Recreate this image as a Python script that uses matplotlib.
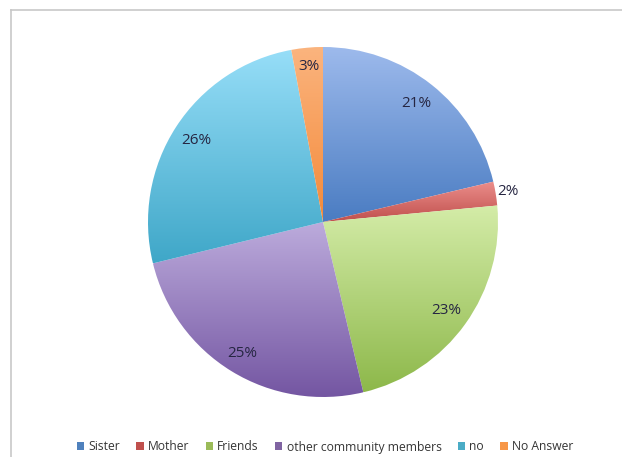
"""
Pie chart of who the respondents talk to, Excel style gradient slices.
"""

import numpy as np
import matplotlib
matplotlib.use("Agg")
import matplotlib.pyplot as plt
from matplotlib.colors import LinearSegmentedColormap
from matplotlib.patches import Patch
from matplotlib.lines import Line2D

categories = ["Sister", "Mother", "Friends", "other community members", "no", "No Answer"]
shares = [21.3, 2.2, 22.8, 24.9, 25.9, 2.9]
shown_pct = ["21%", "2%", "23%", "25%", "26%", "3%"]

# (top, bottom) colours of the gradient in each slice
grad_colors = [
    ("#9dbaec", "#4a7cc2"),
    ("#ec8e8b", "#c0504d"),
    ("#d4eca8", "#8db84a"),
    ("#bcabdc", "#7456a2"),
    ("#97def8", "#3fa7c8"),
    ("#fbb47e", "#f48a3a"),
]
legend_colors = ["#4f81bd", "#c0504d", "#9bbb59", "#8064a2", "#4bacc6", "#f79646"]

W, H = 622, 457
fig = plt.figure(figsize=(W / 100, H / 100), dpi=100)
ax = fig.add_axes([0, 0, 1, 1])

cx, cy, r = 323, H - 222, 175
wedges, _ = ax.pie(shares, startangle=90, counterclock=False, center=(cx, cy),
                   radius=r, colors=legend_colors, frame=True)
ax.set_xlim(0, W)
ax.set_ylim(0, H)
ax.set_aspect("equal")
ax.axis("off")

# vertical gradient inside each slice, light at the top
grad = np.linspace(0, 1, 256).reshape(-1, 1)
renderer = fig.canvas.get_renderer()
for w, (top, bot) in zip(wedges, grad_colors):
    w.set_facecolor("none")
    w.set_edgecolor("none")
    bb = w.get_window_extent(renderer).transformed(ax.transData.inverted())
    cmap = LinearSegmentedColormap.from_list("g", [bot, top])
    im = ax.imshow(grad, cmap=cmap, origin="lower", aspect="auto",
                   extent=[bb.x0, bb.x1, bb.y0, bb.y1], interpolation="bilinear", zorder=1)
    im.set_clip_path(w)

ax.set_xlim(0, W)
ax.set_ylim(0, H)

dists = [0.86, 1.07, 0.87, 0.88, 0.86, 0.89]
for w, txt, d in zip(wedges, shown_pct, dists):
    ang = np.deg2rad((w.theta1 + w.theta2) / 2)
    ax.text(cx + d * r * np.cos(ang), cy + d * r * np.sin(ang), txt,
            ha="center", va="center", fontsize=11, color="#262642",
            family="Open Sans", zorder=3)

# chart frame (only top and left visible in the crop)
fig.add_artist(Line2D([11 / W, 1], [1 - 10 / H, 1 - 10 / H], color="#c8c8c8", lw=1.2))
fig.add_artist(Line2D([11 / W, 11 / W], [0, 1 - 10 / H], color="#c8c8c8", lw=1.2))

handles = [Patch(facecolor=c, edgecolor="none") for c in legend_colors]
fig.legend(handles, categories, loc="center", bbox_to_anchor=(325 / W, 1 - 447 / H),
           ncol=6, frameon=False, handlelength=0.6, handleheight=0.6,
           handletextpad=0.35, columnspacing=1.35,
           prop={"family": "Open Sans", "size": 8.7}, labelcolor="#353535")

fig.savefig("out.png", dpi=100)
